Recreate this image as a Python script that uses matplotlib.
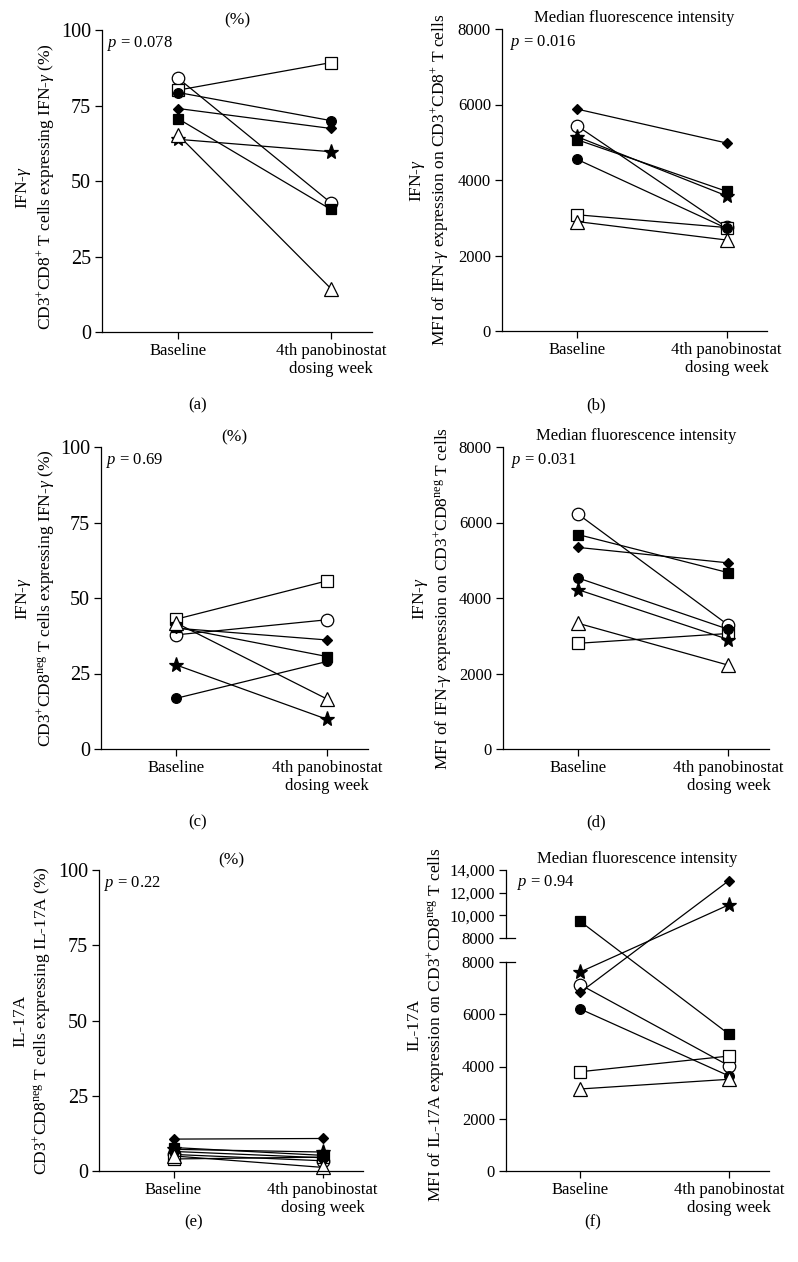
import matplotlib
matplotlib.use('Agg')
import matplotlib.pyplot as plt
from matplotlib.patches import ConnectionPatch

plt.rcParams['font.family'] = 'Liberation Serif'
plt.rcParams['mathtext.fontset'] = 'custom'
plt.rcParams['mathtext.rm'] = 'Liberation Serif'
plt.rcParams['mathtext.it'] = 'Liberation Serif:italic'

W, H = 798, 1262

groups = ['Baseline', '4th panobinostat\ndosing week']

# one entry per patient, same order in every panel
# open circle, open square, filled circle, diamond, filled square, star, triangle
a_base = [84.0, 80.1, 79.3, 74.0, 70.6, 63.8, 65.2]
a_week4 = [42.8, 89.2, 70.0, 67.4, 40.6, 59.7, 14.4]
b_base = [5440, 3080, 4550, 5880, 5070, 5150, 2900]
b_week4 = [2750, 2740, 2720, 4980, 3700, 3580, 2410]
c_base = [37.8, 43.0, 16.8, 40.0, 40.3, 27.8, 41.7]
c_week4 = [42.8, 55.7, 29.0, 36.1, 30.6, 9.8, 16.5]
d_base = [6220, 2800, 4530, 5340, 5680, 4220, 3330]
d_week4 = [3280, 3060, 3170, 4930, 4670, 2900, 2220]
e_base = [5.5, 4.0, 6.5, 10.6, 7.8, 7.2, 5.0]
e_week4 = [3.4, 4.6, 4.4, 10.8, 5.2, 6.3, 1.2]
f_base = [7130, 3800, 6200, 6840, 9460, 7620, 3140]
f_week4 = [4030, 4400, 3640, 13060, 5240, 10930, 3510]

p_values = ['0.078', '0.016', '0.69', '0.031', '0.22', '0.94']

styles = [
    dict(marker='o', ms=9, mfc='white'),
    dict(marker='s', ms=8.5, mfc='white'),
    dict(marker='o', ms=7, mfc='black'),
    dict(marker='D', ms=5, mfc='black'),
    dict(marker='s', ms=7.5, mfc='black'),
    dict(marker='*', ms=11, mfc='black'),
    dict(marker='^', ms=9.5, mfc='white'),
]

fig = plt.figure(figsize=(W / 100, H / 100), dpi=100)


def make_ax(l, r, t, b):
    return fig.add_axes([l / W, 1 - b / H, (r - l) / W, (b - t) / H])


def style_ax(ax, ysize, bottom=True):
    ax.spines['top'].set_visible(False)
    ax.spines['right'].set_visible(False)
    ax.spines['left'].set_linewidth(0.9)
    ax.spines['bottom'].set_linewidth(0.9)
    ax.tick_params(direction='out', length=5, width=0.9, pad=3)
    ax.tick_params(axis='y', labelsize=ysize)
    ax.set_xlim(-0.5, 1.27)
    if bottom:
        ax.set_xticks([0, 1])
        ax.set_xticklabels(groups, fontsize=12, linespacing=1.15)
    else:
        ax.spines['bottom'].set_visible(False)
        ax.set_xticks([])


def draw_pairs(ax, base, week4):
    for b, w, st in zip(base, week4, styles):
        ax.plot([0, 1], [b, w], color='black', lw=0.9, mec='black', mew=0.9,
                clip_on=False, **st)


def set_label(ax, cyto, sub, xpos, ypos=0.5):
    ax.set_ylabel(cyto + '\n' + sub, fontsize=12.5, linespacing=1.15)
    ax.yaxis.set_label_coords(xpos, ypos)


def pct_panel(ax, base, week4, cyto, sub, pval, xlab, ylab=0.5):
    style_ax(ax, 14.5)
    draw_pairs(ax, base, week4)
    ax.set_ylim(0, 100)
    ax.set_yticks([0, 25, 50, 75, 100])
    ax.set_title('(%)', fontsize=12.5, pad=4)
    set_label(ax, cyto, sub, xlab, ylab)
    ax.text(0.02, 0.955, '$p$ = ' + pval, transform=ax.transAxes, fontsize=12, va='center')


def mfi_panel(ax, base, week4, cyto, sub, pval, xlab):
    style_ax(ax, 12)
    draw_pairs(ax, base, week4)
    ax.set_ylim(0, 8000)
    ax.set_yticks([0, 2000, 4000, 6000, 8000])
    ax.set_title('Median fluorescence intensity', fontsize=12, pad=5)
    set_label(ax, cyto, sub, xlab)
    ax.text(0.03, 0.955, '$p$ = ' + pval, transform=ax.transAxes, fontsize=12, va='center')


ifn = 'IFN-$\\gamma$'
il17 = 'IL-17A'

ax_a = make_ax(102, 372, 30, 332)
pct_panel(ax_a, a_base, a_week4, ifn,
          'CD3$^{+}$CD8$^{+}$ T cells expressing IFN-$\\gamma$ (%)', p_values[0], -0.166, 0.48)

ax_b = make_ax(502, 767, 29, 331)
mfi_panel(ax_b, b_base, b_week4, ifn,
          'MFI of IFN-$\\gamma$ expression on CD3$^{+}$CD8$^{+}$ T cells', p_values[1], -0.193)

ax_c = make_ax(101, 368, 447, 749)
pct_panel(ax_c, c_base, c_week4, ifn,
          'CD3$^{+}$CD8$^{\\mathrm{neg}}$ T cells expressing IFN-$\\gamma$ (%)', p_values[2], -0.165)

ax_d = make_ax(503, 769, 447, 749)
mfi_panel(ax_d, d_base, d_week4, ifn,
          'MFI of IFN-$\\gamma$ expression on CD3$^{+}$CD8$^{\\mathrm{neg}}$ T cells', p_values[3], -0.184)

ax_e = make_ax(99, 363, 870, 1171)
pct_panel(ax_e, e_base, e_week4, il17,
          'CD3$^{+}$CD8$^{\\mathrm{neg}}$ T cells expressing IL-17A (%)', p_values[4], -0.175)

# panel f: broken y axis
ax_ft = make_ax(506, 769, 870, 938)
ax_fb = make_ax(506, 769, 962, 1171)
style_ax(ax_ft, 12, bottom=False)
style_ax(ax_fb, 12)
ax_ft.set_ylim(8000, 14000)
ax_ft.set_yticks([8000, 10000, 12000, 14000])
ax_ft.set_yticklabels(['8000', '10,000', '12,000', '14,000'])
ax_fb.set_ylim(0, 8000)
ax_fb.set_yticks([0, 2000, 4000, 6000, 8000])
ax_ft.set_title('Median fluorescence intensity', fontsize=12, pad=5)
ax_ft.text(0.042, 0.82, '$p$ = ' + p_values[5], transform=ax_ft.transAxes, fontsize=12, va='center')
set_label(ax_fb, il17, 'MFI of IL-17A expression on CD3$^{+}$CD8$^{\\mathrm{neg}}$ T cells',
          -0.224, 0.70)
for ax, yb in ((ax_ft, 0), (ax_fb, 1)):
    ax.plot([0, 0.035], [yb, yb], transform=ax.transAxes, color='black', lw=0.9, clip_on=False)

cut = 8000
for b, w, st in zip(f_base, f_week4, styles):
    ax_b0 = ax_ft if b > cut else ax_fb
    ax_w4 = ax_ft if w > cut else ax_fb
    if ax_b0 is ax_w4:
        ax_b0.plot([0, 1], [b, w], color='black', lw=0.9, mec='black', mew=0.9,
                   clip_on=False, **st)
    else:
        con = ConnectionPatch(xyA=(0, b), coordsA=ax_b0.transData,
                              xyB=(1, w), coordsB=ax_w4.transData,
                              color='black', lw=0.9)
        fig.add_artist(con)
        ax_b0.plot([0], [b], ls='none', mec='black', mew=0.9, clip_on=False, zorder=5, **st)
        ax_w4.plot([1], [w], ls='none', mec='black', mew=0.9, clip_on=False, zorder=5, **st)

# panel letters
for lbl, x, y in (('(a)', 198, 405), ('(b)', 596, 405), ('(c)', 198, 822),
                  ('(d)', 596, 822), ('(e)', 194, 1222), ('(f)', 593, 1222)):
    fig.text(x / W, 1 - y / H, lbl, fontsize=12, ha='center', va='center')

plt.savefig('out.png', dpi=100)
